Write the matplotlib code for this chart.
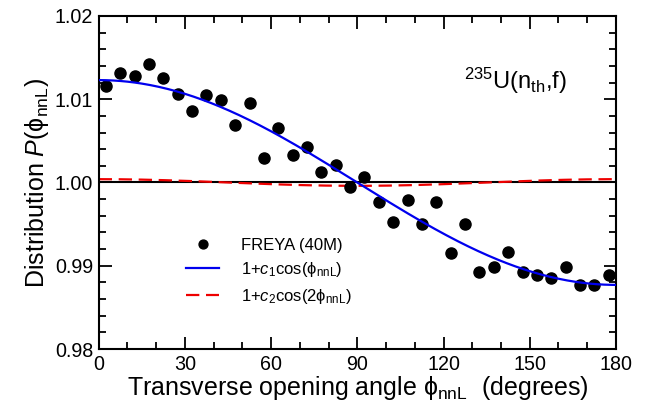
import numpy as np
import matplotlib
matplotlib.use('Agg')
import matplotlib.pyplot as plt
from matplotlib.ticker import MultipleLocator

plt.rcParams['font.family'] = ['Liberation Sans', 'DejaVu Sans']
plt.rcParams['mathtext.fontset'] = 'custom'
plt.rcParams['mathtext.rm'] = 'Liberation Sans'
plt.rcParams['mathtext.it'] = 'Liberation Sans:italic'
plt.rcParams['mathtext.bf'] = 'Liberation Sans:bold'

# FREYA (40M) points, 5-degree bins
angle = [2.5, 7.5, 12.5, 17.5, 22.5, 27.5, 32.5, 37.5, 42.5, 47.5, 52.5, 57.5,
         62.5, 67.5, 72.5, 77.5, 82.5, 87.5, 92.5, 97.5, 102.5, 107.5, 112.5, 117.5,
         122.5, 127.5, 132.5, 137.5, 142.5, 147.5, 152.5, 157.5, 162.5, 167.5, 172.5, 177.5]
dist = [1.0116, 1.0131, 1.0128, 1.0142, 1.0125, 1.0106, 1.0086, 1.0105, 1.0099, 1.0069,
        1.0096, 1.0030, 1.0065, 1.0033, 1.0043, 1.0013, 1.0021, 0.9994, 1.0007, 0.9976,
        0.9953, 0.9979, 0.9950, 0.9976, 0.9915, 0.9950, 0.9892, 0.9898, 0.9916, 0.9892,
        0.9889, 0.9885, 0.9898, 0.9877, 0.9877, 0.9889]

# fit coefficients
c1 = 0.0123
c2 = 0.0004

phi = np.linspace(0, 180, 361)
fit1 = 1 + c1 * np.cos(np.radians(phi))
fit2 = 1 + c2 * np.cos(2 * np.radians(phi))

PHI = '\u03d5$_{\\rm nnL}$'

fig = plt.figure(figsize=(6.47, 4.07), dpi=100)
ax = fig.add_axes([0.1525, 0.1425, 0.7995, 0.8182])

ax.axhline(1.0, color='black', lw=1.5, zorder=1)
ax.plot(angle, dist, 'o', color='black', ms=8, zorder=3, label='FREYA (40M)')
ax.plot(phi, fit1, color='#0000ee', lw=1.6, zorder=4, label='1+$c_1$cos(' + PHI + ')')
ax.plot(phi, fit2, color='#ee0000', lw=1.6, ls=(0, (6, 3)), zorder=2,
        label='1+$c_2$cos(2' + PHI + ')')

ax.set_xlim(0, 180)
ax.set_ylim(0.98, 1.02)
ax.xaxis.set_major_locator(MultipleLocator(30))
ax.xaxis.set_minor_locator(MultipleLocator(10))
ax.yaxis.set_minor_locator(MultipleLocator(0.002))
ax.set_yticks([0.98, 0.99, 1.00, 1.01, 1.02])
ax.set_yticklabels(['0.98', '0.99', '1.00', '1.01', '1.02'])
ax.tick_params(which='both', direction='in', top=True, right=True, width=1.3, labelsize=14.2)
ax.tick_params(which='major', length=9, pad=4)
ax.tick_params(which='minor', length=5)
for s in ax.spines.values():
    s.set_linewidth(1.5)

ax.set_xlabel('Transverse opening angle ' + PHI + '  (degrees)', fontsize=18, labelpad=0)
ax.set_ylabel('Distribution $P$(' + PHI + ')', fontsize=18, labelpad=3)

ax.text(0.905, 0.805, r'$^{235}$U(n$_{\rm th}$,f)', transform=ax.transAxes,
        fontsize=17, ha='right', va='center')

ax.legend(loc='lower left', bbox_to_anchor=(0.14, 0.085), frameon=False, fontsize=12,
          handlelength=2.0, handletextpad=1.3, labelspacing=0.45, markerscale=0.8)

fig.savefig('out.png', dpi=100)
